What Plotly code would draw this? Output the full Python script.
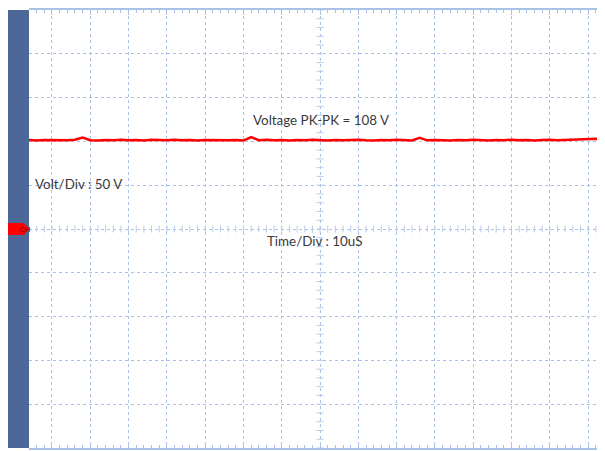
import plotly.graph_objects as go

# ---- data (read from the scope capture) ----
time_us = list(range(-76, 77, 2))  # time axis, 10 uS / div
volts = [
    101.5, 101.0, 101.6, 101.3, 101.8, 101.2, 102.0, 104.5, 101.4, 101.0,
    101.7, 101.3, 102.0, 101.2, 101.6, 101.0, 101.8, 101.4, 101.2, 101.9,
    101.3, 101.6, 101.0, 101.7, 101.4, 101.9, 101.2, 101.6, 101.0, 105.0,
    101.3, 101.8, 101.2, 101.5, 101.0, 101.7, 101.3, 101.9, 101.4, 101.0,
    101.7, 101.2, 101.6, 101.9, 101.3, 101.0, 101.6, 101.2, 101.8, 101.4,
    101.0, 104.0, 101.2, 101.7, 101.3, 101.0, 101.6, 101.2, 101.8, 101.4,
    101.1, 101.7, 101.3, 101.9, 101.2, 101.6, 101.0, 101.5, 101.8, 101.2,
    101.6, 101.3, 101.9, 102.2, 103.0, 102.0, 101.8,
]
assert len(volts) == len(time_us)

labels = ["Voltage PK-PK = 108 V", "Volt/Div : 50 V", "Time/Div : 10uS"]

VOLT_DIV = 50
TIME_DIV = 10
X_RANGE = [-76, 74.4]
Y_RANGE = [-250, 250]

GRID = "#a9c2e6"
BAR = "#4d6799"

fig = go.Figure()

# centre-line tick marks (graticule)
minor_t = [t * TIME_DIV / 5 for t in range(-40, 41)]
minor_v = [v * VOLT_DIV / 5 for v in range(-25, 26)]
fig.add_trace(go.Scatter(x=minor_t, y=[0] * len(minor_t), mode="markers",
                         marker=dict(symbol="line-ns", size=5,
                                     line=dict(color="#b9cdea", width=1)),
                         hoverinfo="skip", showlegend=False))
fig.add_trace(go.Scatter(x=[0] * len(minor_v), y=minor_v, mode="markers",
                         marker=dict(symbol="line-ew", size=5,
                                     line=dict(color="#b9cdea", width=1)),
                         hoverinfo="skip", showlegend=False))

# signal
fig.add_trace(go.Scatter(x=time_us, y=volts, mode="lines",
                         line=dict(color="#ff0000", width=2.5),
                         showlegend=False))

fig.update_xaxes(range=X_RANGE, dtick=TIME_DIV, tick0=0, showgrid=True,
                 gridcolor=GRID, griddash="dot", gridwidth=1, zeroline=False,
                 showticklabels=False, showline=True, linecolor=GRID,
                 linewidth=2, mirror="ticks", ticks="inside", ticklen=5,
                 tickcolor=GRID,
                 minor=dict(dtick=TIME_DIV / 5, ticks="inside", ticklen=3,
                            tickcolor=GRID, showgrid=False))
fig.update_yaxes(range=Y_RANGE, dtick=VOLT_DIV, tick0=0, showgrid=True,
                 gridcolor=GRID, griddash="dot", gridwidth=1, zeroline=False,
                 showticklabels=False, showline=False)

# left channel bar
fig.add_shape(type="rect", xref="paper", yref="paper",
              x0=-21 / 576, x1=0, y0=0, y1=1,
              fillcolor=BAR, line=dict(width=0), layer="above")
# CH1 ground marker
fig.add_shape(type="path", xref="paper", yref="y",
              path="M -0.0365,6.8 L -0.0095,6.8 L 0.001,0 L -0.0095,-6.8 L -0.0365,-6.8 Z",
              fillcolor="#ff0000", line=dict(width=0), layer="above")
fig.add_annotation(x=-0.021, y=0, xref="paper", yref="y", text="CH",
                   showarrow=False, font=dict(size=8, color="#8a0000",
                                              family="Liberation Sans"))

font = dict(family="Lato", size=13.4, color="#3a3a3a")
fig.add_annotation(x=0.3, y=124, text=labels[0], showarrow=False,
                   xanchor="center", yanchor="middle", font=font)
fig.add_annotation(x=-74.9, y=51, text=labels[1], showarrow=False,
                   xanchor="left", yanchor="middle", font=font)
fig.add_annotation(x=-14.4, y=-13.6, text=labels[2], showarrow=False,
                   xanchor="left", yanchor="middle", font=font)

fig.update_layout(width=597, height=443,
                  margin=dict(l=21, r=0, t=0, b=3),
                  paper_bgcolor="white", plot_bgcolor="white")

fig.write_html("out.html")
